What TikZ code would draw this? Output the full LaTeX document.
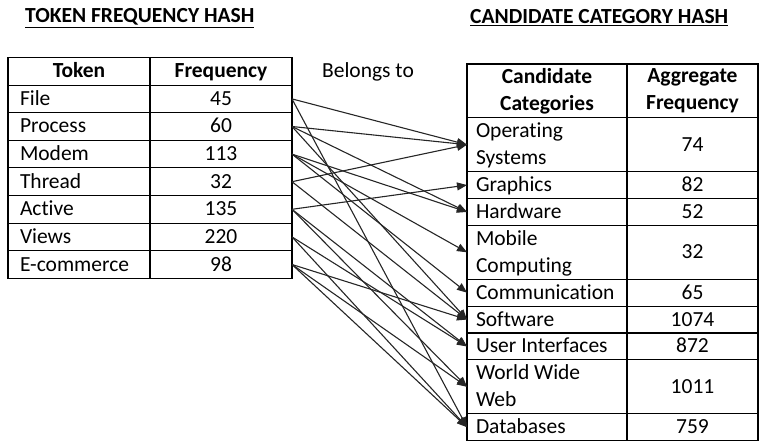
\documentclass[tikz,border=0pt]{standalone}
\usepackage{fontspec}
\setmainfont{Carlito}[Ligatures=NoCommon]
\usetikzlibrary{arrows.meta,positioning}

\begin{document}
\begin{tikzpicture}[x=1pt, y=-1pt, every node/.style={font=\fontsize{21.5}{27}\selectfont},
    cell/.style={draw, line width=1.1pt, outer sep=0pt, inner sep=0pt, minimum height=27.6pt,
        text height=14pt, text depth=1pt},
    headcell/.style={cell, minimum height=53.8pt, align=center, text height={}, text depth={}},
    link/.style={-{Triangle[length=10pt,width=8pt]}, line width=1.1pt, black!85}]
    \useasboundingbox (0,0) rectangle (761,441);

    % Titles
    \node[anchor=west, inner sep=0pt] (ttok) at (25,18) {\underline{\textbf{TOKEN FREQUENCY HASH}}};
    \node[anchor=west, inner sep=0pt] (tcat) at (470,18) {\underline{\textbf{CANDIDATE CATEGORY HASH}}};
    \node (belong) at (368,72) {Belongs to};

    % Token frequency table
    \node[cell, minimum width=142pt] (tok0) at (79,71.3) {\textbf{Token}};
    \node[cell, minimum width=142pt, right=0pt of tok0] (frq0) {\textbf{Frequency}};
    \foreach \t/\f [count=\i, remember=\i as \j (initially 0)] in
        {File/45, Process/60, Modem/113, Thread/32, Active/135, Views/220, E-commerce/98}{
        \node[cell, text width=118pt, inner xsep=12pt, align=flush left, below=0pt of tok\j] (tok\i) {\t};
        \node[cell, minimum width=142pt, right=0pt of tok\i] (frq\i) {\f};
    }

    % Candidate category table
    \node[headcell, minimum width=160pt] (cat0) at (547,90.9) {\textbf{Candidate}\\\textbf{Categories}};
    \node[headcell, minimum width=131pt, right=0pt of cat0] (agg0) {\textbf{Aggregate}\\\textbf{Frequency}};
    \foreach \c/\v/\h [count=\i, remember=\i as \j (initially 0)] in
        {{Operating\\Systems}/74/2, Graphics/82/1, Hardware/52/1, {Mobile\\Computing}/32/2,
         Communication/65/1, Software/1074/1, User Interfaces/872/1, {World Wide\\Web}/1011/2,
         Databases/759/1}{
        \pgfmathsetmacro\dep{\h*27-26}
        \node[cell, text width=142pt, inner xsep=9pt, align=flush left, minimum height=\h*26.9pt,
            text depth=\dep pt, below=0pt of cat\j] (cat\i) {\c};
        \node[cell, minimum width=131pt, minimum height=\h*26.9pt, right=0pt of cat\i] (agg\i) {\v};
    }

    % Belongs-to links
    \foreach \a/\b in {1/1, 1/9, 2/1, 2/3, 2/6, 3/3, 3/4, 3/5, 4/1, 4/6,
                       5/2, 5/7, 5/8, 6/7, 6/9, 7/6, 7/8, 7/9}
        \draw[link] (frq\a.east) -- (cat\b.west);
\end{tikzpicture}
\end{document}
